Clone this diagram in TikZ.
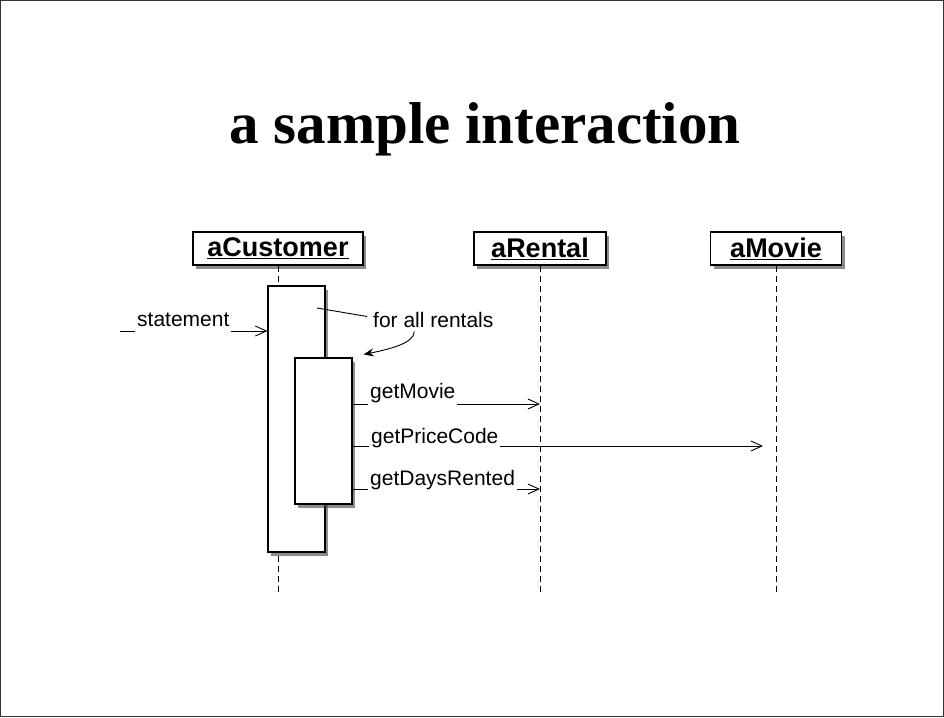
\documentclass[tikz,border=0pt]{standalone}
\usepackage{fontspec}
\setmainfont{Liberation Serif}
\setsansfont{Liberation Sans}
\usetikzlibrary{arrows.meta,shadows,positioning}

\begin{document}
\begin{tikzpicture}[x=1pt,y=-1pt,
  object/.style={draw,line width=1.2pt,fill=white,minimum height=33pt,inner sep=0pt,
    font=\sffamily\bfseries\fontsize{27}{27}\selectfont,
    drop shadow={shadow xshift=3pt,shadow yshift=-4pt,fill=black!75,opacity=0.6}},
  activation/.style={draw,line width=1.2pt,fill=white,minimum width=57pt,inner sep=0pt,
    drop shadow={shadow xshift=3pt,shadow yshift=-4pt,fill=black!75,opacity=0.6}},
  lifeline/.style={line width=0.9pt,dash pattern=on 6pt off 4pt},
  msg/.style={line width=0.9pt,-{Straight Barb[length=11pt,width=10pt]}},
  msglabel/.style={font=\sffamily\fontsize{21}{21}\selectfont,fill=white,
    inner sep=2pt,text height=16pt,text depth=6pt,anchor=base west}]
\useasboundingbox (0,0) rectangle (944,717);
\draw [black!80,line width=1pt] (0.5,0.5) rectangle (943.5,716.5);
\node [anchor=base] (title) at (485,143) {\bfseries\fontsize{59}{59}\selectfont a sample interaction};
% objects and lifelines
\coordinate (bottom) at (0,595);
\node [object,minimum width=170pt] (cust) at (278,248.5) {\underline{aCustomer}};
\node [object,minimum width=132pt] (rental) at (540,248.5) {\underline{aRental}};
\node [object,minimum width=131pt] (movie) at (776,248.5) {\underline{aMovie}};
\draw [lifeline] (cust.south) -- (cust.south |- bottom);
\draw [lifeline] (rental.south) -- (rental.south |- bottom);
\draw [lifeline] (movie.south) -- (movie.south |- bottom);
\node [activation,minimum height=266pt] (outer) at (296.5,419) {};
\node [activation,minimum height=146pt] (inner) at (323.5,431) {};
% incoming call
\coordinate (caller) at (120,331);
\draw [msg] (caller) -- (outer.west |- caller);
\node [msglabel] (statement) at (135,326) {statement};
% note
\node [anchor=base west,inner sep=0pt,font=\sffamily\fontsize{21}{21}\selectfont] (note) at (373,327) {for all rentals};
\coordinate (notefoot) at (317,308);
\draw [line width=0.9pt] (notefoot) -- ([xshift=-6pt,yshift=3pt]note.west);
\draw [line width=0.9pt,-{Stealth[length=10pt,width=8pt]}] ([xshift=-19pt,yshift=-4pt]note.south)
  .. controls +(0,12) and +(25,-5) .. ([xshift=11pt,yshift=3pt]inner.north east);
% messages
\coordinate (m1) at (0,404);
\coordinate (m2) at (0,446);
\coordinate (m3) at (0,489);
\draw [msg] (inner.east |- m1) -- (rental.south |- m1);
\node [msglabel] (getmovie) at (368,398) {getMovie};
\draw [msg] (inner.east |- m2) -- ([xshift=-13pt]movie.south |- m2);
\node [msglabel] (getprice) at (369,443) {getPriceCode};
\draw [msg] (inner.east |- m3) -- (rental.south |- m3);
\node [msglabel] (getdays) at (368,485) {getDaysRented};
\end{tikzpicture}
\end{document}
